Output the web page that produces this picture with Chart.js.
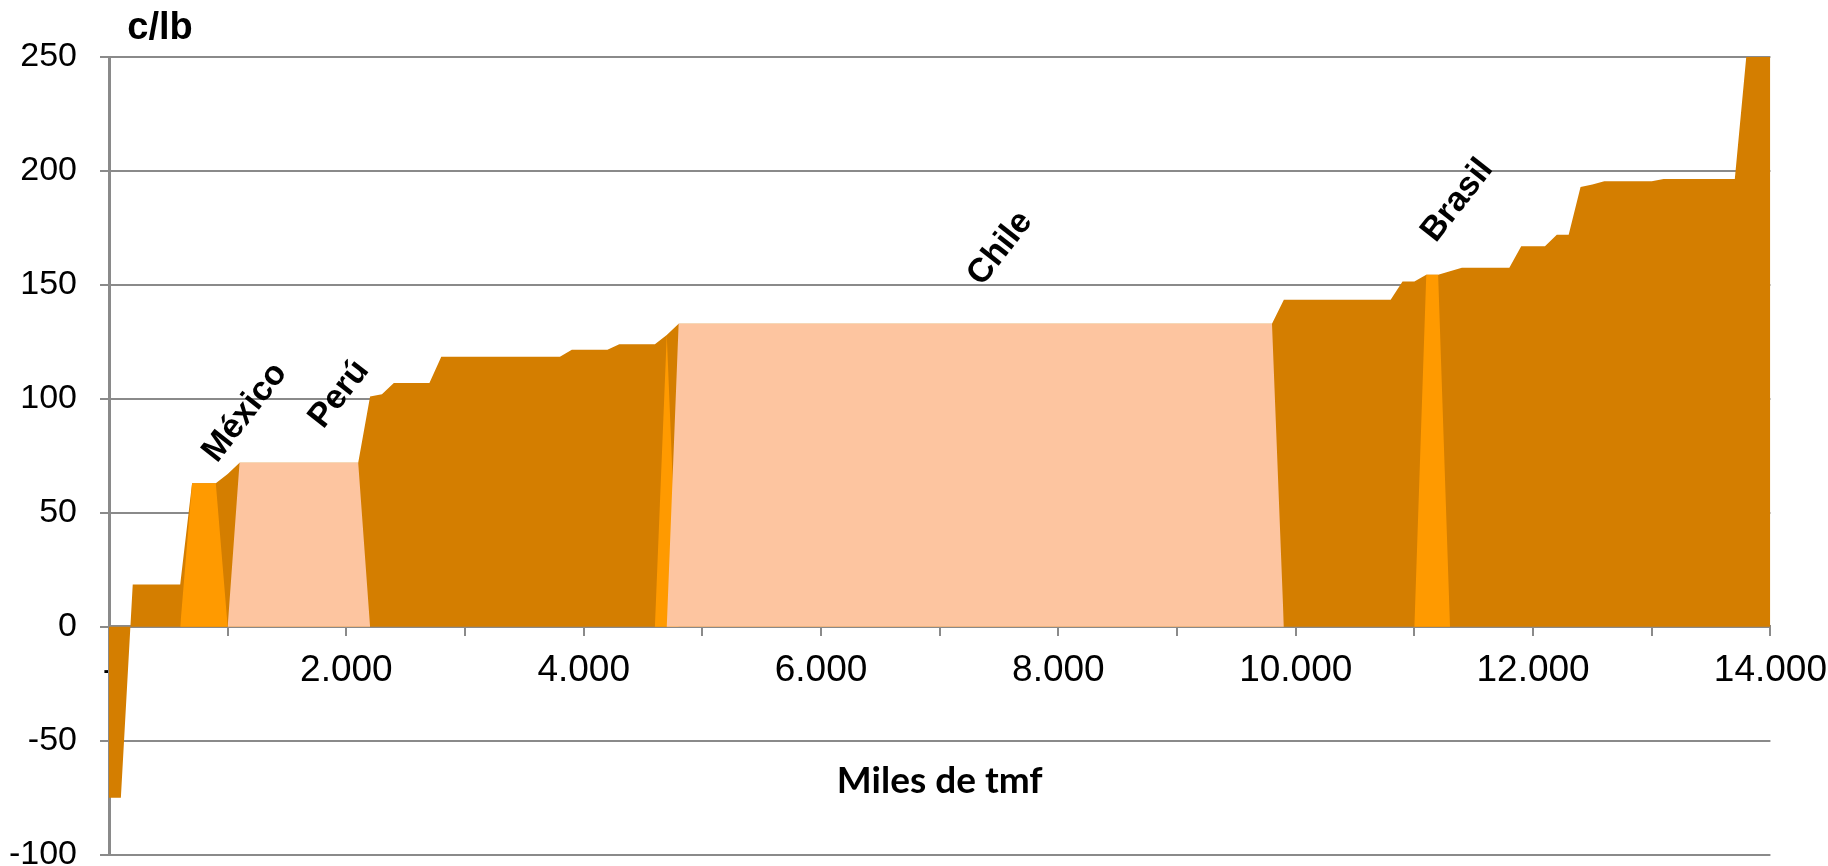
<!DOCTYPE html>
<html>
<head>
<meta charset="utf-8">
<script src="https://cdn.jsdelivr.net/npm/chart.js@4.4.1/dist/chart.umd.min.js"></script>
<style>
    html, body { margin: 0; padding: 0; background: #fff; overflow: hidden; }
    #wrap { position: absolute; left: 0; top: 0; width: 1841px; height: 898px; }
</style>
</head>
<body>
<div id="wrap"><canvas id="costChart"></canvas></div>
<script>
// Cost curve (c/lb) against cumulative output (miles de tmf)
var curveX = [0, 100, 200, 600, 700, 900, 1000, 1100, 2100, 2200, 2300, 2400, 2700, 2800, 3800, 3900, 4200, 4300, 4600, 4700, 4800, 9800, 9900, 10800, 10900, 11000, 11100, 11200, 11300, 11400, 11800, 11900, 12100, 12200, 12300, 12400, 12500, 12600, 13000, 13100, 13700, 13800, 14000];
var curveY = [-75, -75, 18.5, 18.5, 63, 63, 67, 72, 72, 101, 102, 107, 107, 118.5, 118.5, 121.5, 121.5, 124, 124, 128, 133, 133, 143.5, 143.5, 151.5, 151.5, 154.5, 154.5, 156, 157.5, 157.5, 167, 167, 172, 172, 193, 194, 195.5, 195.5, 196.5, 196.5, 252, 252];

// highlighted producers: Mexico / Brazil (bright orange), Peru / Chile (peach)
var brightX = [600, 700, 900, 1000, 4600, 4700, 4800, 11000, 11100, 11200, 11300];
var brightY = [0, 63, 63, 0, 0, 128, 0, 0, 154.5, 154.5, 0];
var peachX = [1000, 1100, 2100, 2200, 4700, 4800, 9800, 9900];
var peachY = [0, 72, 72, 0, 0, 133, 133, 0];

// country labels (anchored in data units)
var countryNames = ['México', 'Perú', 'Chile', 'Brasil'];
var countryX = [1146, 1939, 7510, 11362];
var countryY = [94, 102, 166, 187];

function toPoints(xs, ys) {
    return xs.map(function (x, i) { return { x: x, y: ys[i] }; });
}

function fmtThousands(v) {
    if (v === 0) return '-';
    if (v % 2000 !== 0) return '';
    return (v / 1000) + '.000';
}

var textPlugin = {
    id: 'chartTexts',
    afterDraw: function (chart) {
        var ctx = chart.ctx;
        var xs = chart.scales.x, ys = chart.scales.y;
        ctx.save();
        ctx.fillStyle = '#000';

        // unit at top of the value axis
        ctx.font = 'bold 38px "Liberation Sans", Arial, sans-serif';
        ctx.textAlign = 'center';
        ctx.textBaseline = 'alphabetic';
        ctx.fillText('c/lb', 160, 39);

        // axis title, drawn inside the plot below the category labels
        ctx.font = 'bold 37px Lato, "Open Sans", sans-serif';
        ctx.textBaseline = 'middle';
        ctx.fillText('Miles de tmf', (chart.chartArea.left + chart.chartArea.right) / 2, 781);

        // rotated country names
        ctx.font = 'bold 34px "Liberation Sans", Arial, sans-serif';
        countryNames.forEach(function (name, i) {
            ctx.save();
            ctx.translate(xs.getPixelForValue(countryX[i]), ys.getPixelForValue(countryY[i]));
            ctx.rotate(-52 * Math.PI / 180);
            ctx.textAlign = 'center';
            ctx.textBaseline = 'middle';
            ctx.fillText(name, 0, 0);
            ctx.restore();
        });
        ctx.restore();
    }
};

var gridGrey = '#8a8a8a';
var ctx = document.getElementById('costChart').getContext('2d');
new Chart(ctx, {
    type: 'line',
    data: {
        datasets: [{
            label: 'Perú / Chile',
            data: toPoints(peachX, peachY),
            backgroundColor: '#FDC5A0',
            borderColor: 'transparent',
            borderWidth: 0,
            pointRadius: 0,
            fill: 'origin',
            tension: 0
        }, {
            label: 'México / Brasil',
            data: toPoints(brightX, brightY),
            backgroundColor: '#FF9A00',
            borderColor: 'transparent',
            borderWidth: 0,
            pointRadius: 0,
            fill: 'origin',
            tension: 0
        }, {
            label: 'Costo',
            data: toPoints(curveX, curveY),
            backgroundColor: '#D47E00',
            borderColor: 'transparent',
            borderWidth: 0,
            pointRadius: 0,
            fill: 'origin',
            tension: 0
        }]
    },
    options: {
        responsive: true,
        maintainAspectRatio: false,
        animation: false,
        layout: {
            padding: { top: 57, right: 0, left: 0, bottom: 0 }
        },
        plugins: {
            legend: { display: false },
            tooltip: { enabled: false }
        },
        scales: {
            x: {
                type: 'linear',
                position: { y: 0 },
                min: 0,
                max: 14000,
                ticks: {
                    stepSize: 1000,
                    autoSkip: false,
                    maxRotation: 0,
                    color: '#000',
                    padding: 14,
                    font: { family: '"Liberation Sans", Arial, sans-serif', size: 37 },
                    callback: function (value) { return fmtThousands(value); }
                },
                grid: {
                    drawOnChartArea: false,
                    color: gridGrey,
                    lineWidth: 2,
                    tickLength: 8
                },
                border: { color: gridGrey, width: 3 }
            },
            y: {
                min: -100,
                max: 250,
                ticks: {
                    stepSize: 50,
                    color: '#000',
                    padding: 23,
                    font: { family: '"Liberation Sans", Arial, sans-serif', size: 34 }
                },
                grid: {
                    color: gridGrey,
                    lineWidth: 2,
                    tickLength: 9
                },
                border: { color: gridGrey, width: 3 },
                afterFit: function (scale) { scale.width = 109; }
            }
        }
    },
    plugins: [textPlugin]
});
</script>
</body>
</html>
